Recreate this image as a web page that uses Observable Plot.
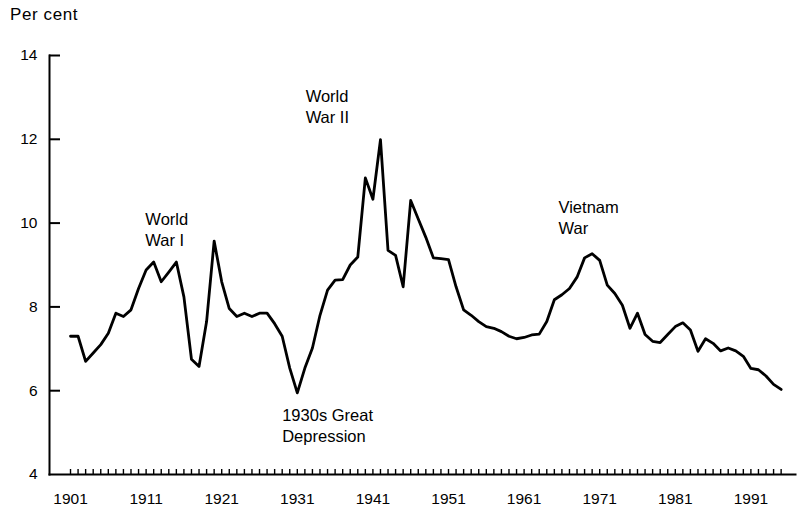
<!DOCTYPE html>
<html>
<head>
<meta charset="utf-8">
<script src="https://cdn.jsdelivr.net/npm/d3@7"></script>
<script src="https://cdn.jsdelivr.net/npm/@observablehq/plot@0.6"></script>
<style>
  html, body { margin: 0; padding: 0; background: #fff; }
  #chart { position: relative; width: 800px; height: 510px; }
  #unit { position: absolute; left: 10px; top: 5px; font: 17px "Liberation Sans", Arial, sans-serif; letter-spacing: 0.6px; color: #000; }
</style>
</head>
<body>
<div id="chart"><div id="unit">Per cent</div></div>
<script>
const years = d3.range(1901, 1996);
const values = [
  7.3, 7.3, 6.7, 6.9, 7.1, 7.37, 7.85, 7.77, 7.93, 8.44,
  8.88, 9.07, 8.6, 8.83, 9.07, 8.24, 6.75, 6.58, 7.65, 9.57,
  8.6, 7.96, 7.77, 7.85, 7.77, 7.85, 7.85, 7.6, 7.3, 6.54,
  5.95, 6.54, 7.02, 7.8, 8.4, 8.64, 8.65, 9.0, 9.19, 11.08,
  10.57, 11.99, 9.35, 9.23, 8.48, 10.54, 10.1, 9.66, 9.17, 9.15,
  9.13, 8.48, 7.93, 7.8, 7.65, 7.53, 7.49, 7.41, 7.3, 7.24,
  7.27, 7.33, 7.35, 7.65, 8.17, 8.29, 8.44, 8.71, 9.17, 9.27,
  9.11, 8.52, 8.32, 8.04, 7.49, 7.85, 7.34, 7.18, 7.15, 7.34,
  7.53, 7.62, 7.45, 6.94, 7.24, 7.13, 6.95, 7.02, 6.95, 6.82,
  6.53, 6.5, 6.35, 6.15, 6.03
];
const yTicks = [4, 6, 8, 10, 12, 14];
const xTickLabels = [1901, 1911, 1921, 1931, 1941, 1951, 1961, 1971, 1981, 1991];
const annotationText = ["World\nWar I", "World\nWar II", "1930s Great\nDepression", "Vietnam\nWar"];
const annotationYear = [1910.9, 1932.1, 1929.0, 1965.55];
const annotationValue = [10.32, 13.26, 5.65, 10.61];

const series = years.map((y, i) => ({year: y, value: values[i]}));
const notes = annotationText.map((t, i) => ({text: t, year: annotationYear[i], value: annotationValue[i]}));

const font = '"Liberation Sans", Arial, sans-serif';
const plot = Plot.plot({
  width: 800,
  height: 510,
  marginLeft: 49,
  marginRight: 5,
  marginTop: 55,
  marginBottom: 36,
  style: {fontFamily: font, fontSize: "15px", color: "#000", background: "transparent"},
  x: {domain: [1898.22, 1996.9]},
  y: {domain: [4, 14]},
  marks: [
    Plot.axisY(yTicks, {tickSize: 0, tickPadding: 12, tickFormat: d => String(d), label: null, fontSize: 15.5}),
    Plot.tickY(yTicks.slice(1), {y: d => d, stroke: "#000", strokeWidth: 2, insetRight: 735}),
    Plot.tickX(years, {x: d => d, stroke: "#000", strokeWidth: 1.4, insetTop: 414}),
    Plot.axisX(xTickLabels, {tickSize: 0, tickPadding: 18, tickFormat: d => String(d), label: null, fontSize: 15.5}),
    Plot.frame({anchor: "left", strokeWidth: 2}),
    Plot.frame({anchor: "bottom", strokeWidth: 2}),
    Plot.line(series, {x: "year", y: "value", stroke: "#000", strokeWidth: 2.8, strokeLinejoin: "round"}),
    Plot.text(notes, {x: "year", y: "value", text: "text", textAnchor: "start", lineAnchor: "top", lineHeight: 1.3, fontSize: 16.5, fill: "#000"})
  ]
});
document.getElementById("chart").appendChild(plot);
</script>
</body>
</html>
